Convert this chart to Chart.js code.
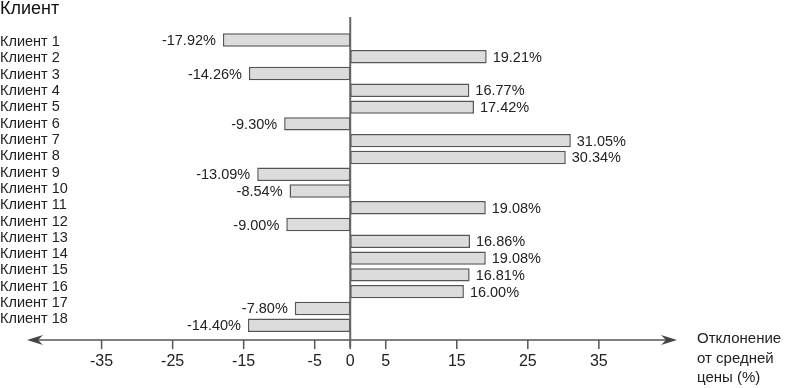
<!DOCTYPE html>
<html><head><meta charset="utf-8">
<script src="https://cdn.jsdelivr.net/npm/chart.js@4.4.0/dist/chart.umd.min.js"></script>
<style>html,body{margin:0;padding:0;background:#fff}#wrap{width:790px;height:388px;position:relative}</style>
</head><body><div id="wrap"><canvas id="c"></canvas></div>
<script>
const categories = ['Клиент 1','Клиент 2','Клиент 3','Клиент 4','Клиент 5','Клиент 6','Клиент 7','Клиент 8','Клиент 9','Клиент 10','Клиент 11','Клиент 12','Клиент 13','Клиент 14','Клиент 15','Клиент 16','Клиент 17','Клиент 18'];
const deviations = [-17.92, 19.21, -14.26, 16.77, 17.42, -9.30, 31.05, 30.34, -13.09, -8.54, 19.08, -9.00, 16.86, 19.08, 16.81, 16.00, -7.80, -14.40];
const xTickValues = [-35, -25, -15, -5, 0, 5, 15, 25, 35];
const chartTitle = 'Клиент';
const axisTitleLines = ['Отклонение', 'от средней', 'цены (%)'];
const labelIndex = categories.map((_, i) => i);

const FAMILY = '"Liberation Sans", Arial, Helvetica, sans-serif';
Chart.defaults.font.family = FAMILY;
Chart.defaults.color = '#222';

const decor = {
  id: 'decor',
  afterDatasetsDraw(chart) {
    const {ctx, chartArea: ca, scales: {x}} = chart;
    const zx = x.getPixelForValue(0);
    const axisY = ca.bottom + 6.5;
    ctx.save();
    const meta = chart.getDatasetMeta(0);
    ctx.font = '14.5px ' + FAMILY;
    ctx.fillStyle = '#222';
    ctx.textBaseline = 'middle';
    meta.data.forEach((bar, i) => {
      const v = deviations[i];
      const txt = v.toFixed(2) + '%';
      if (v < 0) { ctx.textAlign = 'right'; ctx.fillText(txt, bar.x - 7, bar.y + 1); }
      else { ctx.textAlign = 'left'; ctx.fillText(txt, bar.x + 6, bar.y + 1); }
    });
    ctx.strokeStyle = '#555'; ctx.lineWidth = 1.5;
    ctx.beginPath(); ctx.moveTo(ca.left + 10, axisY); ctx.lineTo(ca.right - 10, axisY); ctx.stroke();
    ctx.fillStyle = '#444';
    const arrow = (tipX, dir) => {
      ctx.beginPath();
      ctx.moveTo(tipX, axisY);
      ctx.lineTo(tipX - dir * 16, axisY - 5);
      ctx.lineTo(tipX - dir * 11, axisY);
      ctx.lineTo(tipX - dir * 16, axisY + 5);
      ctx.closePath(); ctx.fill();
    };
    arrow(ca.left, -1); arrow(ca.right, 1);
    xTickValues.forEach(v => {
      const px = x.getPixelForValue(v);
      ctx.beginPath(); ctx.moveTo(px, axisY); ctx.lineTo(px, axisY + 9); ctx.stroke();
    });
    ctx.strokeStyle = '#666'; ctx.lineWidth = 2;
    ctx.beginPath(); ctx.moveTo(zx, 17); ctx.lineTo(zx, axisY + 7); ctx.stroke();
    ctx.fillStyle = '#222';
    ctx.font = '15px ' + FAMILY;
    ctx.textAlign = 'left'; ctx.textBaseline = 'middle';
    axisTitleLines.forEach((t, i) => ctx.fillText(t, ca.right + 20, axisY - 1 + i * 19.5));
    ctx.restore();
  }
};

new Chart(document.getElementById('c'), {
  type: 'bar',
  data: {
    labels: categories,
    datasets: [{
      data: deviations,
      xAxisID: 'x', yAxisID: 'y',
      backgroundColor: '#dcdcdc',
      borderColor: '#555',
      borderWidth: 1.5,
      borderSkipped: false,
      barPercentage: 0.8,
      categoryPercentage: 1
    }]
  },
  options: {
    indexAxis: 'y',
    responsive: true,
    maintainAspectRatio: false,
    animation: false,
    devicePixelRatio: 1,
    layout: { padding: { left: 0, right: 113, top: 0, bottom: 16.4 } },
    plugins: {
      legend: { display: false },
      tooltip: { enabled: false },
      title: {
        display: true, text: chartTitle, align: 'start', color: '#111',
        font: { size: 18, weight: 'normal', lineHeight: 1 },
        padding: { top: 0, bottom: 13.6 }
      }
    },
    scales: {
      x: {
        type: 'linear', min: -45.5, max: 46,
        grid: { display: false, drawTicks: false }, border: { display: false },
        afterBuildTicks: s => { s.ticks = xTickValues.map(v => ({ value: v })); },
        afterFit: s => { s.height = 38; },
        ticks: { autoSkip: false, maxRotation: 0, padding: 18.8, color: '#222', font: { size: 16 }, callback: v => String(v) }
      },
      y: {
        type: 'category', display: false
      },
      y2: {
        type: 'linear', position: 'left', reverse: true, min: -0.119, max: 17.352,
        grid: { display: false, drawTicks: false }, border: { display: false },
        afterBuildTicks: s => { s.ticks = labelIndex.map(v => ({ value: v })); },
        afterFit: s => { s.width = 27; },
        ticks: { autoSkip: false, mirror: true, crossAlign: 'near', padding: -27, color: '#222', font: { size: 14.5 }, callback: v => categories[v] }
      }
    }
  },
  plugins: [decor]
});
</script></body></html>
